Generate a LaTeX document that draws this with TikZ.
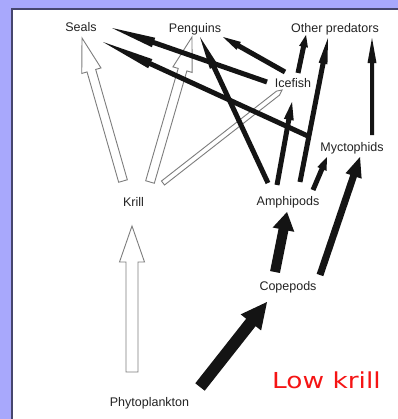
\documentclass[tikz,border=0pt]{standalone}
\usepackage{fontspec}
\setmainfont{Liberation Sans}
\newfontfamily\lowfont{DejaVu Sans}
\usetikzlibrary{calc}
\definecolor{lav}{RGB}{168,168,252}
\definecolor{framec}{RGB}{70,70,110}
\definecolor{txt}{RGB}{35,35,35}
\definecolor{hollowedge}{RGB}{125,125,125}
\definecolor{lowred}{RGB}{245,20,20}
% #1 style, #2 tail coordinate, #3 tip coordinate, #4 half body width, #5 half head width, #6 head length
\newcommand\fatarrow[6]{%
  \coordinate (fah) at ($(#3)!#6!(#2)$);
  \path[#1] ($(#2)!#4!90:(#3)$) -- ($(fah)!#4!-90:(#2)$) -- ($(fah)!#5!-90:(#2)$) -- (#3)
    -- ($(fah)!#5!90:(#2)$) -- ($(fah)!#4!90:(#2)$) -- ($(#2)!#4!-90:(#3)$) -- cycle;}
\begin{document}
\begin{tikzpicture}[x=1bp,y=-1bp,
  lbl/.style={font=\fontsize{12.5bp}{14bp}\selectfont, text=txt, inner sep=0pt, text height=9bp, text depth=0pt},
  hollow/.style={fill=white, draw=hollowedge, line width=0.9bp, line join=miter},
  solidarr/.style={fill=black!92, draw=none}]
\useasboundingbox (0,0) rectangle (398,419);
\fill[lav] (0,0) rectangle (398,419);
\fill[white] (12,9) rectangle (398,419);
\draw[framec, line width=1.5bp] (12,419) -- (12,9) -- (398,9);

% nodes
\node[lbl] (seals) at (81,26.5) {Seals};
\node[lbl] (penguins) at (195,28) {Penguins};
\node[lbl] (other) at (335,27.5) {Other predators};
\node[lbl] (icefish) at (293,83) {Icefish};
\node[lbl] (myct) at (352,146.5) {Myctophids};
\node[lbl] (krill) at (133.5,201.5) {Krill};
\node[lbl] (amph) at (288,200.5) {Amphipods};
\node[lbl] (cope) at (288,286) {Copepods};
\node[lbl] (phyto) at (149.5,401.5) {Phytoplankton};
\node[inner sep=0pt, text=lowred, text height=16bp, text depth=0pt] (lowkrill) at (326.5,380)
  {\scalebox{1.2}[1]{\fontsize{22bp}{24bp}\lowfont Low krill}};

% connector end points
\coordinate (ks1) at ($(krill)+(-10.5,-20.5)$);
\coordinate (ks2) at ($(seals)+(1,11.5)$);
\coordinate (kp1) at ($(krill)+(16.5,-19.5)$);
\coordinate (kp2) at ($(penguins)+(-3,9)$);
\coordinate (ki1) at ($(krill)+(29.5,-18.5)$);
\coordinate (ki2) at ($(icefish)+(-11,7)$);
\coordinate (pk1) at ($(phyto)+(-17.5,-29.5)$);
\coordinate (pk2) at ($(krill)+(-1.5,24.5)$);
\coordinate (pc1) at ($(phyto)+(50.5,-14.5)$);
\coordinate (pc2) at ($(cope)+(-21,16)$);
\coordinate (ca1) at ($(cope)+(-13,-14)$);
\coordinate (ca2) at ($(amph)+(-1,11.5)$);
\coordinate (cm1) at ($(cope)+(32,-11)$);
\coordinate (cm2) at ($(myct)+(8,10.5)$);
\coordinate (mo1) at ($(myct)+(20,-11.5)$);
\coordinate (mo2) at ($(other)+(37,10.5)$);
\coordinate (am1) at ($(amph)+(25,-10.5)$);
\coordinate (am2) at ($(myct)+(-25,10.5)$);
\coordinate (ap1) at ($(amph)+(-20,-17.5)$);
\coordinate (ap2) at ($(penguins)+(5,9)$);
\coordinate (ai1) at ($(amph)+(-11,-15.5)$);
\coordinate (ai2) at ($(icefish)+(-1,19)$);
\coordinate (ao1) at ($(amph)+(12,-18.5)$);
\coordinate (ao2) at ($(other)+(-7,10.5)$);
\coordinate (io1) at ($(icefish)+(5,-10)$);
\coordinate (io2) at ($(other)+(-29,7.5)$);
\coordinate (ip1) at ($(icefish)+(-8,-11)$);
\coordinate (ip2) at ($(penguins)+(28,9)$);
\coordinate (is1) at ($(icefish)+(-26,-1)$);
\coordinate (is2) at ($(seals)+(31,1.5)$);
\coordinate (ms1) at ($(myct)+(-42,-9.5)$);
\coordinate (ms2) at ($(seals)+(22,15.5)$);

% hollow (krill) arrows
\fatarrow{hollow}{ks1}{ks2}{4.5bp}{10bp}{34bp}
\fatarrow{hollow}{kp1}{kp2}{4.5bp}{10bp}{34bp}
\fatarrow{hollow}{ki1}{ki2}{2.5bp}{2.5bp}{5bp}
\fatarrow{hollow}{pk1}{pk2}{6bp}{12.5bp}{36bp}

% solid arrows
\fatarrow{solidarr}{pc1}{pc2}{6bp}{13bp}{26bp}
\fatarrow{solidarr}{ca1}{ca2}{5bp}{11bp}{18bp}
\fatarrow{solidarr}{cm1}{cm2}{3.5bp}{8.5bp}{20bp}
\fatarrow{solidarr}{mo1}{mo2}{2bp}{4.5bp}{25bp}
\fatarrow{solidarr}{am1}{am2}{2.5bp}{5bp}{13bp}
\fatarrow{solidarr}{ap1}{ap2}{2.5bp}{4.5bp}{33bp}
\fatarrow{solidarr}{ai1}{ai2}{2.5bp}{5bp}{18bp}
\fatarrow{solidarr}{ao1}{ao2}{2.5bp}{4.5bp}{26bp}
\fatarrow{solidarr}{io1}{io2}{2.5bp}{4.5bp}{12bp}
\fatarrow{solidarr}{ip1}{ip2}{2.5bp}{4.5bp}{18bp}
\fatarrow{solidarr}{is1}{is2}{2.5bp}{5bp}{44bp}
\fatarrow{solidarr}{ms1}{ms2}{2.5bp}{5bp}{52bp}
\end{tikzpicture}
\end{document}
